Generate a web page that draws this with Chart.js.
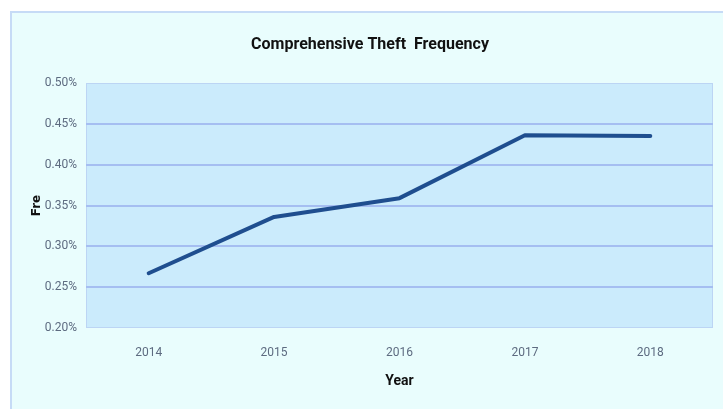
<!DOCTYPE html>
<html>
<head>
<meta charset="utf-8">
<script src="https://cdn.jsdelivr.net/npm/chart.js@4/dist/chart.umd.min.js"></script>
<style>
  html, body { margin: 0; padding: 0; background: #ffffff; }
  #frame {
    position: absolute; left: 10px; top: 11px; width: 713px; height: 398px;
    background: #e9fdfd; border-left: 2px solid #c6dbf6; border-top: 2px solid #c6dbf6;
    box-sizing: border-box;
  }
  #wrap { position: absolute; left: 0; top: 0; width: 723px; height: 409px; }
</style>
</head>
<body>
<div id="frame"></div>
<div id="wrap"><canvas id="theftChart" width="723" height="409"></canvas></div>
<script>
// Comprehensive theft frequency by year (percent)
const years = ['2014', '2015', '2016', '2017', '2018'];
const frequency = [0.267, 0.336, 0.359, 0.436, 0.435];
const yTicks = [0.20, 0.25, 0.30, 0.35, 0.40, 0.45, 0.50];
const chartTitle = 'Comprehensive Theft  Frequency';

const narrow = "Roboto, 'Liberation Sans', Arial, sans-serif";

// Fill the plot area before the grid and line are drawn, and put the title
// a little right of the canvas centre, over the plot
const plotBackground = {
  id: 'plotBackground',
  beforeDraw(chart) {
    const { ctx, chartArea: a } = chart;
    ctx.save();
    ctx.fillStyle = '#cbebfc';
    ctx.fillRect(a.left, a.top, a.right - a.left, a.bottom - a.top);
    ctx.strokeStyle = '#bcd5f4';
    ctx.lineWidth = 1;
    ctx.strokeRect(a.left + 0.5, a.top + 0.5, a.right - a.left - 1, a.bottom - a.top - 1);

    ctx.fillStyle = '#111111';
    ctx.font = 'bold 16px ' + narrow;
    ctx.textAlign = 'center';
    ctx.textBaseline = 'middle';
    ctx.fillText(chartTitle, 370, 45);
    ctx.restore();
  }
};

const ctx = document.getElementById('theftChart').getContext('2d');
const theftChart = new Chart(ctx, {
  type: 'line',
  data: {
    labels: years,
    datasets: [{
      data: frequency,
      borderColor: '#1f4e8f',
      borderWidth: 4,
      borderCapStyle: 'round',
      borderJoinStyle: 'round',
      pointRadius: 0,
      tension: 0,
      fill: false
    }]
  },
  options: {
    responsive: false,
    animation: false,
    layout: { padding: { left: 0, right: 10, top: 83, bottom: 0 } },
    plugins: {
      legend: { display: false },
      tooltip: { enabled: false },
      title: { display: false }
    },
    scales: {
      x: {
        offset: true,
        grid: { display: false, drawTicks: false },
        border: { display: false },
        ticks: { color: '#5d6b80', padding: 18, font: { family: narrow, size: 12 } },
        title: {
          display: true,
          text: 'Year',
          color: '#111111',
          font: { family: narrow, size: 14, weight: 'bold', lineHeight: 1.2 },
          padding: { top: 4, bottom: 19 }
        },
        afterFit(scale) { scale.height = 81; }
      },
      y: {
        min: 0.2,
        max: 0.5,
        afterBuildTicks(scale) { scale.ticks = yTicks.map(v => ({ value: v })); },
        grid: {
          drawTicks: false,
          lineWidth: 2,
          color: c => (c.index === 0 || c.index === yTicks.length - 1) ? 'rgba(0,0,0,0)' : '#a5bef1'
        },
        border: { display: false },
        ticks: {
          color: '#5d6b80',
          padding: 9,
          font: { family: narrow, size: 12 },
          callback: v => v.toFixed(2) + '%'
        },
        title: {
          display: true,
          text: 'Fre',
          color: '#111111',
          font: { family: "'DejaVu Sans', sans-serif", size: 12, weight: 'bold', lineHeight: 1.2 },
          padding: { top: 30, bottom: 0 }
        },
        afterFit(scale) { scale.width = 86; }
      }
    }
  },
  plugins: [plotBackground]
});
</script>
</body>
</html>
